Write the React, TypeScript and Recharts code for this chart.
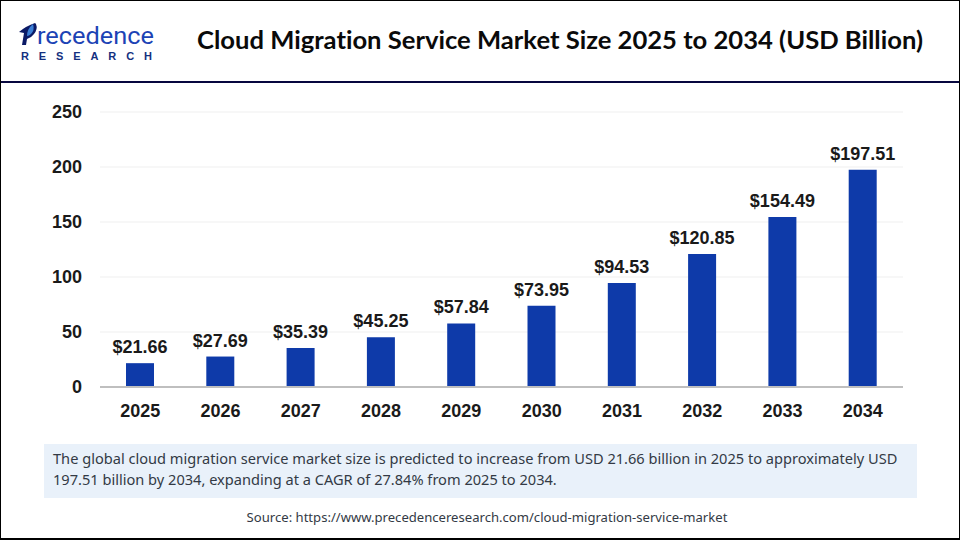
import { Bar, BarChart, CartesianGrid, LabelList, XAxis, YAxis } from "recharts";

const years = ["2025", "2026", "2027", "2028", "2029", "2030", "2031", "2032", "2033", "2034"];
const marketSize = [21.66, 27.69, 35.39, 45.25, 57.84, 73.95, 94.53, 120.85, 154.49, 197.51];
const yTicks = [0, 50, 100, 150, 200, 250];

const chartData = years.map((year, i) => ({ year, value: marketSize[i] }));

const sans = "'Liberation Sans', Arial, sans-serif";
const tickStyle = { fontFamily: sans, fontWeight: 700, fontSize: 18, fill: "#1a1a1a" };

export default function App() {
  return (
    <div
      style={{
        position: "absolute",
        left: 0,
        top: 0,
        width: 960,
        height: 540,
        background: "#fff",
        boxSizing: "border-box",
        border: "1px solid #000",
        borderBottomWidth: 2,
        overflow: "hidden",
      }}
    >
      {/* logo */}
      <div style={{ position: "absolute", left: 17, top: 18 }}>
        <svg width="170" height="46" style={{ display: "block" }}>
          <path d="M1 13 Q8 7 17 4 L18 5 Q20 10 16 15 Q13 19 9 20 L8 26 L4 26 L6 14 Z" fill="#0b1a66" />
          <path d="M15 5 Q17 11 13 15 Q11 17 9 17 Q9 10 15 5 Z" fill="#3b7fd6" />
          <text x="19" y="25" fontFamily="Roboto, sans-serif" fontSize="23" fill="#1c43b5" textLength="117" lengthAdjust="spacingAndGlyphs">
            recedence
          </text>
          <text x="3" y="41" fontFamily={sans} fontWeight="700" fontSize="11" fill="#14307f" textLength="131">
            RESEARCH
          </text>
        </svg>
      </div>
      <div
        style={{
          position: "absolute",
          left: 196,
          top: 21,
          fontFamily: "Lato, sans-serif",
          fontWeight: 700,
          fontSize: 25.6,
          lineHeight: "34px",
          color: "#0a0a0a",
          whiteSpace: "nowrap",
          fontVariantLigatures: "none",
        }}
      >
        Cloud Migration Service Market Size 2025 to 2034 (USD Billion)
      </div>
      <div style={{ position: "absolute", left: 0, top: 80, width: 960, height: 2, background: "#07073f" }} />

      <div style={{ position: "absolute", left: -1, top: -1 }}>
        <BarChart
          width={960}
          height={430}
          data={chartData}
          margin={{ top: 112, right: 57, bottom: 13, left: 40 }}
          barCategoryGap="65%"
        >
          <CartesianGrid vertical={false} stroke="#efefef" strokeWidth={1} />
          <XAxis
            dataKey="year"
            axisLine={{ stroke: "#bfbfbf", strokeWidth: 2 }}
            tickLine={false}
            tickMargin={11}
            tick={tickStyle}
          />
          <YAxis
            width={60}
            domain={[0, 250]}
            ticks={yTicks}
            axisLine={false}
            tickLine={false}
            tickMargin={12}
            tick={tickStyle}
          />
          <Bar dataKey="value" fill="#0e3aa9" barSize={28} isAnimationActive={false}>
            <LabelList
              dataKey="value"
              position="top"
              offset={10}
              formatter={(v: number) => `$${v.toFixed(2)}`}
              style={tickStyle}
            />
          </Bar>
        </BarChart>
      </div>

      <div
        style={{
          position: "absolute",
          left: 43,
          top: 443,
          width: 873,
          height: 54,
          background: "#e9f1fa",
          boxSizing: "border-box",
          padding: "4px 9px",
          fontFamily: "'Noto Sans', sans-serif",
          fontSize: 14.6,
          lineHeight: "21px",
          color: "#333a45",
        }}
      >
        The global cloud migration service market size is predicted to increase from USD 21.66 billion in 2025 to approximately USD 197.51 billion by 2034, expanding at a CAGR of 27.84% from 2025 to 2034.
      </div>
      <div
        style={{
          position: "absolute",
          left: 0,
          top: 508,
          width: 972,
          textAlign: "center",
          fontFamily: "'Noto Sans', sans-serif",
          fontSize: 13.1,
          lineHeight: "17px",
          color: "#333a45",
        }}
      >
        Source: https://www.precedenceresearch.com/cloud-migration-service-market
      </div>
    </div>
  );
}
